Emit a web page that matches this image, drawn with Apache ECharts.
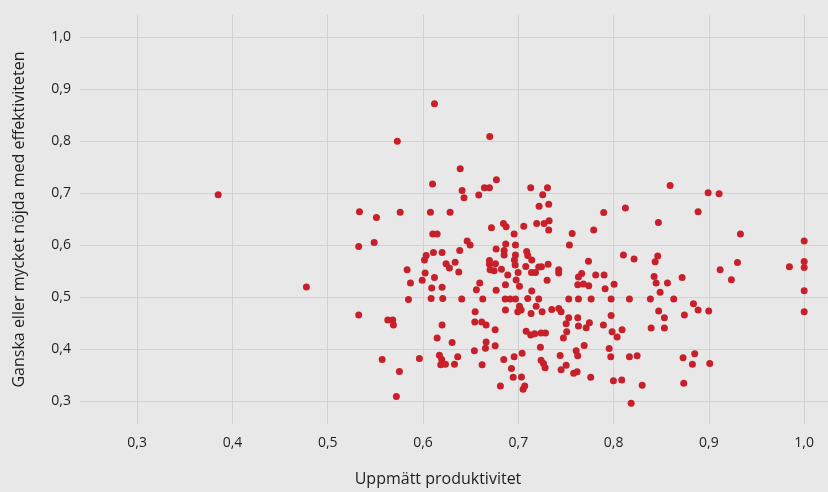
<!DOCTYPE html>
<html>
<head>
<meta charset="utf-8">
<script src="https://cdn.jsdelivr.net/npm/echarts@6/dist/echarts.min.js"></script>
<style>
html,body{margin:0;padding:0;background:#e8e8e8;}
#c{width:828px;height:492px;}
</style>
</head>
<body>
<div id="c"></div>
<script>
// Measured productivity (x) and share satisfied (y)
const productivity = [
0.612,0.670,0.573,0.385,0.639,0.677,0.610,0.641,0.643,0.6585,0.6644,0.6697,0.5333,0.5511,0.576,0.6078,0.6284,0.6718,
0.713,0.7306,0.7256,0.7218,0.7319,0.8593,0.8992,0.9107,0.7896,0.8124,0.8887,0.847,0.6844,0.6872,0.7057,0.7193,0.7271,0.7323,
0.5325,0.5487,0.6102,0.6148,0.6956,0.6463,0.6494,0.6868,0.697,0.6767,0.6851,0.6851,0.697,0.6959,0.6967,0.7088,0.7099,0.7141,
0.6109,0.620,0.6033,0.6015,0.6385,0.6337,0.6242,0.6277,0.6375,0.6697,0.6697,0.676,0.6704,0.6746,0.6823,0.6889,0.6998,0.7078,
0.7138,0.718,0.7214,0.5833,0.6022,0.5991,0.612,0.5868,0.6091,0.620,0.5847,0.6085,0.6207,0.6406,0.6627,0.6595,0.656,0.6767,
0.6865,0.6977,0.7012,0.7141,0.6862,0.6914,0.697,0.7099,0.7214,0.6865,0.7012,0.703,0.6994,0.7134,0.7187,0.5325,0.563,0.5682,
0.5689,0.6547,0.6543,0.6616,0.6662,0.620,0.6757,0.6148,0.6305,0.6662,0.6655,0.6757,0.6539,0.5571,0.5962,0.6172,0.6196,0.6186,
0.6235,0.6364,0.633,0.662,0.6847,0.6956,0.704,0.6928,0.6946,0.7033,0.6812,0.705,0.7067,0.5752,0.572,0.7082,0.713,0.7172,
0.7239,0.7285,0.7232,0.7239,0.7264,0.7281,0.725,0.7351,0.7424,0.7449,0.7319,0.7565,0.7791,0.9331,1.0,0.7536,0.8103,0.8215,
0.8463,0.8436,0.930,0.9118,0.9236,0.9845,1.0,1.0,1.0,1.0,0.8719,0.8425,0.8446,0.8565,0.8488,0.8631,0.8386,0.8166,
0.7974,0.7764,0.7631,0.7529,0.7736,0.7243,0.7313,0.7424,0.7424,0.7302,0.7631,0.7665,0.7812,0.790,0.7624,0.7683,0.7739,0.7911,
0.8005,0.7529,0.7624,0.7502,0.7746,0.7631,0.7712,0.7893,0.7974,0.8473,0.8533,0.8743,0.8838,0.8887,0.8998,0.8089,0.8394,0.8533,
0.7508,0.7473,0.7984,0.8037,0.7691,0.7607,0.7623,0.7439,0.7502,0.7449,0.7581,0.7617,0.776,0.7953,0.797,0.8166,0.8247,0.7998,
0.8085,0.830,0.8184,0.8729,0.8851,0.8827,0.9009,0.8736,0.4776
];
const satisfaction = [
0.872,0.809,0.800,0.697,0.747,0.726,0.718,0.7055,0.6916,0.6967,0.7106,0.7106,0.6643,0.6534,0.6635,0.6635,0.6635,0.6338,
0.7106,0.7106,0.6973,0.675,0.6788,0.715,0.7011,0.699,0.663,0.6719,0.6643,0.6439,0.642,0.6357,0.6368,0.642,0.642,0.6471,
0.5975,0.6052,0.6216,0.6216,0.6216,0.6082,0.6006,0.6025,0.6006,0.593,0.590,0.5815,0.5815,0.572,0.5624,0.588,0.5804,0.572,
0.5861,0.5861,0.5804,0.572,0.590,0.5676,0.5644,0.5562,0.5485,0.5708,0.5638,0.5644,0.5529,0.551,0.5542,0.5428,0.548,0.5594,
0.548,0.548,0.5581,0.5529,0.5466,0.5327,0.5384,0.5275,0.518,0.5193,0.4957,0.4976,0.4976,0.497,0.497,0.5275,0.5148,0.5136,
0.5243,0.5333,0.5212,0.5123,0.497,0.497,0.497,0.4976,0.497,0.4755,0.4831,0.4755,0.4722,0.469,0.4831,0.4659,0.4564,0.4564,
0.4469,0.4722,0.4526,0.4526,0.4469,0.4469,0.4379,0.4221,0.4131,0.4144,0.4022,0.4068,0.3973,0.3807,0.3826,0.3889,0.3807,0.3706,
0.3717,0.3858,0.3717,0.3706,0.3807,0.3858,0.3927,0.3635,0.3463,0.3469,0.3298,0.3235,0.3298,0.3578,0.3095,0.4347,0.4278,0.4303,
0.4316,0.4316,0.4041,0.3793,0.373,0.3648,0.4722,0.4766,0.4785,0.4722,0.6292,0.6229,0.6292,0.6216,0.6082,0.6006,0.5815,0.5739,
0.5796,0.5682,0.567,0.5529,0.5338,0.5586,0.5689,0.5575,0.5129,0.4722,0.5384,0.5403,0.5275,0.5275,0.5098,0.497,0.497,0.497,
0.497,0.497,0.497,0.497,0.5695,0.5586,0.5638,0.5529,0.5466,0.5327,0.539,0.546,0.5428,0.5428,0.5243,0.5256,0.5224,0.5167,
0.5251,0.4608,0.4608,0.4493,0.4512,0.445,0.4417,0.4469,0.4652,0.4736,0.4608,0.4659,0.4875,0.4755,0.4736,0.4379,0.4411,0.4411,
0.4341,0.4221,0.4341,0.424,0.4074,0.3973,0.3877,0.3883,0.3698,0.361,0.354,0.3572,0.3463,0.4017,0.3858,0.3858,0.3877,0.340,
0.3412,0.3311,0.2968,0.3839,0.3916,0.3717,0.373,0.3349,0.5199
];
const xTicks = [0.3,0.4,0.5,0.6,0.7,0.8,0.9,1.0];
const yTicks = [0.3,0.4,0.5,0.6,0.7,0.8,0.9,1.0];
const xTitle = 'Uppmätt produktivitet';
const yTitle = 'Ganska eller mycket nöjda med effektiviteten';

const points = productivity.map((v, i) => [v, satisfaction[i]]);
const fmt = v => Number(v).toFixed(1).replace('.', ',');
const FONT = '"Open Sans", Lato, sans-serif';
const grid = {lineStyle: {color: '#d2d2d2', width: 1}};

const chart = echarts.init(document.getElementById('c'), null, {renderer: 'canvas'});
chart.setOption({
  backgroundColor: '#e8e8e8',
  animation: false,
  grid: {left: 80, right: 0, top: 15, bottom: 65},
  xAxis: {
    type: 'value', min: 0.24, max: 1.025,
    axisLine: {show: false}, axisTick: {show: false, customValues: xTicks},
    splitLine: Object.assign({show: true}, grid),
    axisLabel: {customValues: xTicks, formatter: fmt, color: '#1e1e1e', fontSize: 14, fontFamily: FONT, margin: 12},
    name: xTitle, nameLocation: 'middle', nameGap: 47,
    nameTextStyle: {color: '#1e1e1e', fontSize: 16, fontFamily: FONT, padding: [0, 32, 0, 0]}
  },
  yAxis: {
    type: 'value', min: 0.2567, max: 1.0425,
    axisLine: {show: false}, axisTick: {show: false, customValues: yTicks},
    splitLine: Object.assign({show: true}, grid),
    axisLabel: {customValues: yTicks, formatter: fmt, color: '#1e1e1e', fontSize: 14, fontFamily: FONT, margin: 9},
    name: yTitle, nameLocation: 'middle', nameGap: 53,
    nameTextStyle: {color: '#1e1e1e', fontSize: 16, fontFamily: FONT}
  },
  series: [{
    type: 'scatter', data: points, symbolSize: 7,
    itemStyle: {color: '#c8202a', opacity: 1}
  }]
});
</script>
</body>
</html>
